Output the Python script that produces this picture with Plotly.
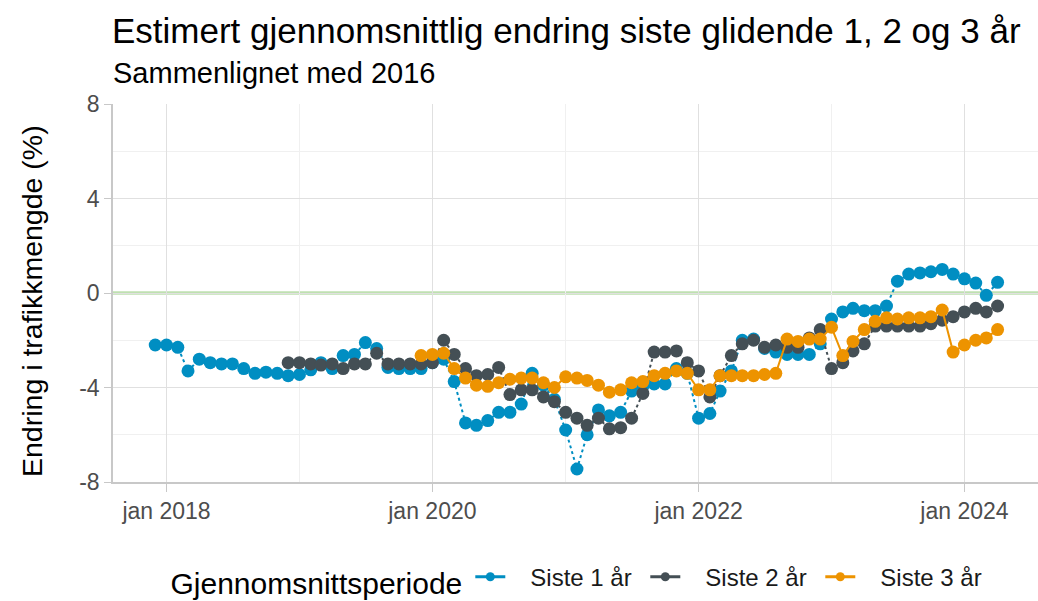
import pandas as pd
import plotly.graph_objects as go

# ---- data (monthly) ----
siste1_start = "2017-12-01"
siste1 = [
    -2.2,
    -2.2, -2.3, -3.3, -2.8, -2.95, -3.0, -3.0, -3.2, -3.4, -3.35, -3.4, -3.5,
    -3.45, -3.25, -2.95, -3.2, -2.65, -2.6, -2.1, -2.35, -3.15, -3.2, -3.2, -3.2,
    -2.95, -2.8, -3.75, -5.5, -5.6, -5.4, -5.05, -5.05, -4.7, -3.4, -3.9, -4.5,
    -5.8, -7.45, -6.0, -4.95, -5.2, -5.05, -4.15, -3.95, -3.85, -3.85, -3.2, -3.4,
    -5.3, -5.1, -4.15, -3.3, -2.0, -1.95, -2.35, -2.5, -2.6, -2.6, -2.6, -2.15,
    -1.1, -0.8, -0.65, -0.75, -0.75, -0.55, 0.5, 0.8, 0.85, 0.9, 1.0, 0.8,
    0.6, 0.42, -0.1, 0.45,
]

siste2_start = "2018-12-01"
siste2 = [
    -2.95,
    -2.95, -3.0, -3.05, -3.0, -3.2, -3.0, -3.0, -2.55, -3.0, -3.0, -3.0, -3.0,
    -2.95, -2.0, -2.6, -3.2, -3.5, -3.45, -3.15, -4.3, -4.1, -4.1, -4.4, -4.6,
    -5.05, -5.3, -5.6, -5.3, -5.75, -5.7, -5.3, -4.25, -2.5, -2.5, -2.45, -2.95,
    -3.3, -4.4, -3.5, -2.65, -2.15, -2.0, -2.3, -2.2, -2.3, -2.3, -1.9, -1.55,
    -3.2, -2.95, -2.45, -2.15, -1.4, -1.4, -1.4, -1.4, -1.4, -1.3, -1.15, -1.0,
    -0.8, -0.65, -0.8, -0.55,
]

siste3_start = "2019-12-01"
siste3 = [
    -2.65,
    -2.6, -2.55, -3.2, -3.6, -3.9, -3.95, -3.8, -3.65, -3.6, -3.6, -3.8, -4.0,
    -3.55, -3.6, -3.7, -3.9, -4.2, -4.1, -3.8, -3.75, -3.5, -3.4, -3.3, -3.4,
    -4.1, -4.1, -3.5, -3.5, -3.5, -3.5, -3.45, -3.4, -1.95, -2.05, -1.95, -1.95,
    -1.45, -2.65, -2.05, -1.55, -1.2, -1.05, -1.1, -1.05, -1.05, -1.0, -0.72, -2.5,
    -2.2, -2.0, -1.9, -1.55,
]

series_names = ["Siste 1 år", "Siste 2 år", "Siste 3 år"]
series_colors = ["#008ec2", "#444f55", "#ed9300"]
series_dash = ["dot", "dot", "solid"]

x_tickvals = ["2018-01-01", "2020-01-01", "2022-01-01", "2024-01-01"]
x_ticktext = ["jan 2018", "jan 2020", "jan 2022", "jan 2024"]
y_tickvals = [-8, -4, 0, 4, 8]
y_ticktext = ["-8", "-4", "0", "4", "8"]

title_text = "Estimert gjennomsnittlig endring siste glidende 1, 2 og 3 år"
subtitle_text = "Sammenlignet med 2016"
y_title = "Endring i trafikkmengde (%)"
legend_title = "Gjennomsnittsperiode"

FONT = "Liberation Sans, Arial, sans-serif"

fig = go.Figure()

starts = [siste1_start, siste2_start, siste3_start]
values = [siste1, siste2, siste3]

for name, start, vals, col, dash in zip(series_names, starts, values, series_colors, series_dash):
    dates = pd.date_range(start, periods=len(vals), freq="MS")
    fig.add_trace(go.Scatter(
        x=dates, y=vals, mode="lines+markers", name=name,
        line=dict(color=col, width=2, dash=dash),
        marker=dict(color=col, size=13, line=dict(width=0)),
        showlegend=False,
    ))

# legend entries (solid keys as in the reference)
for name, col in zip(series_names, series_colors):
    fig.add_trace(go.Scatter(
        x=[None], y=[None], mode="lines+markers", name="\u00a0\u00a0\u00a0" + name,
        line=dict(color=col, width=3),
        marker=dict(color=col, size=9),
    ))

fig.add_shape(type="line", xref="paper", x0=0, x1=1, yref="y", y0=0, y1=0,
              line=dict(color="#bfe0b1", width=3.5), layer="between")

fig.update_layout(
    width=1038, height=601,
    margin=dict(l=113, r=0, t=104, b=119, autoexpand=False),
    paper_bgcolor="white", plot_bgcolor="white",
    font=dict(family=FONT, color="#000000"),
    showlegend=True,
    legend=dict(
        orientation="h", x=0.507, xanchor="center", y=-0.257, yanchor="middle",
        title=dict(text=legend_title, font=dict(size=30, color="#000000"), side="left"),
        font=dict(size=24, color="#1a1a1a"),
        entrywidth=130,
    ),
    annotations=[
        dict(text=title_text, xref="paper", yref="paper", x=0, y=1, xshift=-3, yshift=74,
             xanchor="left", yanchor="middle", showarrow=False,
             font=dict(size=35, color="#000000", family=FONT)),
        dict(text=subtitle_text, xref="paper", yref="paper", x=0, y=1, xshift=-2, yshift=31,
             xanchor="left", yanchor="middle", showarrow=False,
             font=dict(size=29, color="#000000", family=FONT)),
        dict(text=y_title, xref="paper", yref="paper", x=0, y=0.5, xshift=-81, yshift=-8,
             xanchor="center", yanchor="middle", textangle=-90, showarrow=False,
             font=dict(size=28.5, color="#000000", family=FONT)),
    ],
)

fig.update_xaxes(
    type="date", range=["2017-08-07", "2024-07-21"],
    tickvals=x_tickvals, ticktext=x_ticktext,
    tickfont=dict(size=23, color="#4d4d4d"),
    ticks="outside", ticklen=8, tickcolor="#c8c8c8", tickwidth=1,
    showgrid=True, gridcolor="#e0e0e0", gridwidth=1,
    minor=dict(tickvals=["2019-01-01", "2021-01-01", "2023-01-01"], showgrid=True,
               gridcolor="#f0f0f0", gridwidth=1),
    showline=True, linecolor="#c8c8c8", linewidth=1.5,
    zeroline=False,
)
fig.update_yaxes(
    range=[-8, 8], tickvals=y_tickvals, ticktext=y_ticktext,
    tickfont=dict(size=23, color="#4d4d4d"),
    ticks="outside", ticklen=7, tickcolor="#c8c8c8", tickwidth=1,
    showgrid=True, gridcolor="#e0e0e0", gridwidth=1,
    minor=dict(tickvals=[-6, -2, 2, 6], showgrid=True, gridcolor="#f0f0f0", gridwidth=1),
    showline=True, linecolor="#c8c8c8", linewidth=1.5,
    zeroline=False,
)

fig.write_html("out.html", config={"displayModeBar": False},
               post_script="document.body.style.margin='0';")
